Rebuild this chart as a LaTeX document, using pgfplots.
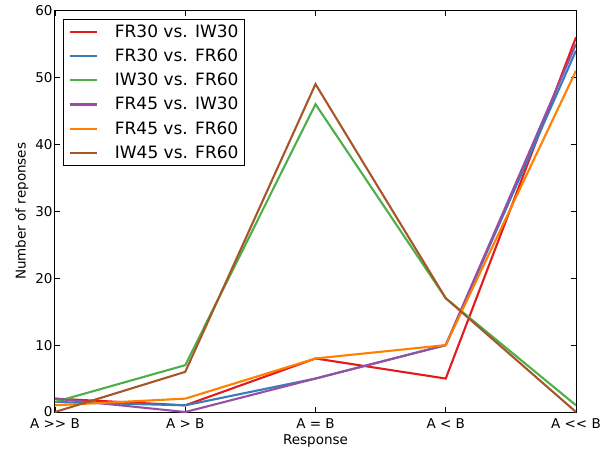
\documentclass[border=0pt]{standalone}
\usepackage{pgfplots}
\pgfplotsset{compat=1.18}
\usepackage{pgfplotstable}
\usepackage{fontspec}
\setmainfont{DejaVu Sans}

\definecolor{cred}{HTML}{E41A1C}
\definecolor{cblue}{HTML}{377EB8}
\definecolor{cgreen}{HTML}{4DAF4A}
\definecolor{cpurple}{HTML}{984EA3}
\definecolor{corange}{HTML}{FF7F00}
\definecolor{cbrown}{HTML}{A65628}

% responses per category (0: A>>B ... 4: A<<B)
\pgfplotstableread{
x  fr30iw30 fr30fr60 iw30fr60 fr45iw30 fr45fr60 iw45fr60
0  2        1.5      1.5      2        1        0
1  1        1        7        0        2        6
2  8        5        46       5        8        49
3  5        10       17       10       10       17
4  56       54       1        55       51       0
}\responses

\tikzset{series/.style={#1, line width=2.1pt}}

\begin{document}
\begin{tikzpicture}
\begin{axis}[
    at={(0pt,0pt)}, anchor=south west,
    width=521pt, height=401.5pt, scale only axis,
    xmin=0, xmax=4, ymin=0, ymax=60,
    xtick={0,1,2,3,4},
    xticklabels={A >{}> B, A > B, A = B, A < B, A <{}< B},
    ytick={0,10,...,60},
    tick align=inside,
    xtick pos=both, ytick pos=both,
    major tick length=5pt,
    tick style={black, line width=0.8pt},
    axis line style={black, line width=1pt},
    /pgf/number format/assume math mode=true,
    ticklabel style={font=\fontsize{13.5}{15}\selectfont},
    xticklabel style={yshift=-3pt},
    yticklabel style={xshift=1pt},
    label style={font=\fontsize{13.5}{15}\selectfont},
    xlabel={Response},
    ylabel={Number of reponses},
    xlabel style={yshift=1pt},
    ylabel style={yshift=0pt},
    legend style={at={(0.015,0.979)}, anchor=north west,
        draw=black, line width=0.9pt,
        font=\fontsize{17}{19}\selectfont,
        nodes={inner sep=0pt, text height=13.5pt, text depth=2.5pt},
        row sep=8.2pt, inner xsep=6pt, inner ysep=4.5pt},
    legend cell align=left,
    legend image code/.code={\draw[#1, line width=2.1pt] (4.5pt,0pt) -- (31pt,0pt);},
]
\addplot[series=cred] table[x=x, y=fr30iw30] {\responses};
\addlegendentry{\hspace{17pt}FR30 vs. IW30}
\addplot[series=cblue] table[x=x, y=fr30fr60] {\responses};
\addlegendentry{\hspace{17pt}FR30 vs. FR60}
\addplot[series=cgreen] table[x=x, y=iw30fr60] {\responses};
\addlegendentry{\hspace{17pt}IW30 vs. FR60}
\addplot[series=cpurple] table[x=x, y=fr45iw30] {\responses};
\addlegendentry{\hspace{17pt}FR45 vs. IW30}
\addplot[series=corange] table[x=x, y=fr45fr60] {\responses};
\addlegendentry{\hspace{17pt}FR45 vs. FR60}
\addplot[series=cbrown] table[x=x, y=iw45fr60] {\responses};
\addlegendentry{\hspace{17pt}IW45 vs. FR60}
\end{axis}
\pgfresetboundingbox
\useasboundingbox (-55pt,-36pt) rectangle (560pt,412pt);
\end{tikzpicture}
\end{document}
